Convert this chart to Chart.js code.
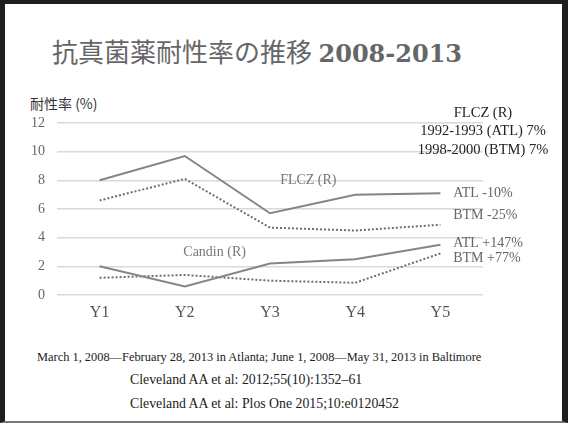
<!DOCTYPE html>
<html>
<head>
<meta charset="utf-8">
<script src="https://cdn.jsdelivr.net/npm/chart.js@4"></script>
<style>
  html, body { margin: 0; padding: 0; background: #fff; }
  #slide {
    position: relative; width: 568px; height: 423px; box-sizing: border-box;
    border-top: 4px solid #1e1e1e; border-left: 5px solid #1e1e1e;
    border-right: 6px solid #1e1e1e; border-bottom: 2px solid #777;
    overflow: hidden; font-family: "Liberation Serif", serif;
  }
  .abs { position: absolute; white-space: nowrap; }
  #title { left: 47px; top: 28px; color: #666; font-size: 26px; }
  #title .jp { font-family: "Noto Sans CJK JP", sans-serif; }
  #title .yr { font-family: "DejaVu Serif", serif; font-weight: bold; font-size: 24px; }
  #ylab { left: 25px; top: 89px; font-family: "Noto Sans CJK JP", sans-serif; font-size: 14px; color: #333; }
  #note { left: 32px; top: 346px; font-size: 12.4px; color: #222; }
  .ref { left: 125px; font-size: 13.8px; color: #222; }
  #wrap { position: absolute; left: -5px; top: 96px; width: 568px; height: 230px; }
</style>
</head>
<body>
<div id="slide">
  <div id="title" class="abs"><span class="jp">抗真菌薬耐性率の推移</span> <span class="yr">2008-2013</span></div>
  <div id="ylab" class="abs">耐性率 (%)</div>
  <div id="wrap"><canvas id="c"></canvas></div>
  <div id="note" class="abs">March 1, 2008—February 28, 2013 in Atlanta; June 1, 2008—May 31, 2013 in Baltimore</div>
  <div class="abs ref" style="top:368px">Cleveland AA et al: 2012;55(10):1352–61</div>
  <div class="abs ref" style="top:392px">Cleveland AA et al: Plos One 2015;10:e0120452</div>
</div>
<script>
const years = ['Y1', 'Y2', 'Y3', 'Y4', 'Y5'];
const flczAtl = [8.0, 9.7, 5.7, 7.0, 7.1];
const flczBtm = [6.6, 8.1, 4.7, 4.5, 4.9];
const candinAtl = [2.0, 0.6, 2.2, 2.5, 3.5];
const candinBtm = [1.2, 1.4, 1.0, 0.85, 2.9];
const yTicks = [0, 2, 4, 6, 8, 10, 12];

// グラフ内の注記（値の位置で配置）
const notes = [
  { text: 'FLCZ (R)', cat: 2.45, val: 8.0, color: '#777', align: 'center' },
  { text: 'Candin (R)', cat: 1.35, val: 3.0, color: '#777', align: 'center' },
  { text: 'ATL -10%', cat: 4.15, val: 7.1, color: '#666', align: 'left' },
  { text: 'BTM -25%', cat: 4.15, val: 5.55, color: '#666', align: 'left' },
  { text: 'ATL +147%', cat: 4.15, val: 3.6, color: '#666', align: 'left' },
  { text: 'BTM +77%', cat: 4.15, val: 2.55, color: '#666', align: 'left' },
  { text: 'FLCZ (R)', cat: 4.5, val: 12.65, color: '#222', align: 'center' },
  { text: '1992-1993 (ATL) 7%', cat: 4.5, val: 11.4, color: '#222', align: 'center' },
  { text: '1998-2000 (BTM) 7%', cat: 4.5, val: 10.1, color: '#222', align: 'center' }
];

const notePlugin = {
  id: 'notes',
  afterDatasetsDraw(chart) {
    const { ctx, scales: { x, y } } = chart;
    const step = x.getPixelForValue(1) - x.getPixelForValue(0);
    ctx.save();
    ctx.textBaseline = 'middle';
    notes.forEach(n => {
      ctx.font = (n.color === '#222' ? '14.5px' : '14px') + ' "Liberation Serif", serif';
      ctx.fillStyle = n.color;
      ctx.textAlign = n.align;
      ctx.fillText(n.text, x.getPixelForValue(0) + n.cat * step, y.getPixelForValue(n.val));
    });
    ctx.restore();
  }
};

const line = (data, dotted) => ({
  data: data,
  borderColor: dotted ? '#6e6e6e' : '#858585',
  borderWidth: 2,
  borderDash: dotted ? [2, 2] : [],
  pointRadius: 0,
  tension: 0,
  fill: false
});

new Chart(document.getElementById('c'), {
  type: 'line',
  data: {
    labels: years,
    datasets: [line(flczAtl, false), line(flczBtm, true), line(candinAtl, false), line(candinBtm, true)]
  },
  options: {
    responsive: true,
    maintainAspectRatio: false,
    animation: false,
    layout: { padding: { left: 0, right: 85, top: 23, bottom: 0 } },
    plugins: { legend: { display: false }, tooltip: { enabled: false } },
    scales: {
      x: {
        offset: true,
        grid: { display: false },
        border: { display: false },
        ticks: { color: '#555', padding: 0, font: { family: '"Liberation Serif", serif', size: 16 } },
        afterFit: s => { s.height = 35; }
      },
      y: {
        min: 0, max: 12,
        afterBuildTicks: s => { s.ticks = yTicks.map(v => ({ value: v })); },
        grid: { color: '#d9d9d9', lineWidth: 1.5, drawTicks: false },
        border: { display: false },
        ticks: { color: '#666', padding: 12, font: { family: '"Liberation Serif", serif', size: 14 } },
        afterFit: s => { s.width = 57; }
      }
    }
  },
  plugins: [notePlugin]
});
</script>
</body>
</html>
